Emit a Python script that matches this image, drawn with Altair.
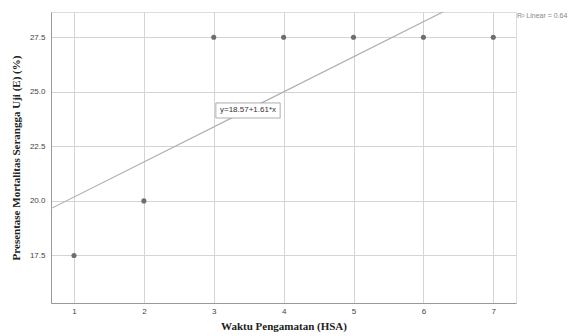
import altair as alt
import pandas as pd
import numpy as np

days = [1, 2, 3, 4, 5, 6, 7]
mortality = [17.5, 20.0, 27.5, 27.5, 27.5, 27.5, 27.5]
x_ticks = [1, 2, 3, 4, 5, 6, 7]
y_ticks = [17.5, 20.0, 22.5, 25.0, 27.5]
eq_label = ["y=18.57+1.61*x"]
r2_label = ["R\u00b2 Linear = 0.64"]

df = pd.DataFrame({"x": days, "y": mortality})

slope, intercept = np.polyfit(days, mortality, 1)
xdom = [0.671, 7.325]
ydom = [15.32, 28.66]
fit = pd.DataFrame({"x": xdom, "y": [intercept + slope * v for v in xdom]})

xs = alt.Scale(domain=xdom, nice=False, zero=False)
ys = alt.Scale(domain=ydom, nice=False, zero=False)

base_x = alt.X("x:Q", scale=xs, title="Waktu Pengamatan (HSA)",
               axis=alt.Axis(values=x_ticks, format="d", grid=True, gridColor="#d4d4d4",
                             domainColor="#999999", tickSize=0, labelPadding=4,
                             labelFontSize=8, labelColor="#444444", labelFont="Liberation Sans",
                             titleFont="Liberation Serif", titleFontSize=11, titleFontWeight="bold",
                             titleColor="#222222", titlePadding=5))
base_y = alt.Y("y:Q", scale=ys, title="Presentase Mortalitas Serangga Uji (E) (%)",
               axis=alt.Axis(values=y_ticks, format=".1f", grid=True, gridColor="#d4d4d4",
                             domainColor="#999999", tickSize=0, labelPadding=6,
                             labelFontSize=8, labelColor="#444444", labelFont="Liberation Sans",
                             titleFont="Liberation Serif", titleFontSize=11, titleFontWeight="bold",
                             titleColor="#222222", titlePadding=8))

points = alt.Chart(df).mark_circle(size=26, color="#6e6e6e", opacity=1).encode(x=base_x, y=base_y)

line = alt.Chart(fit).mark_line(color="#b0b0b0", strokeWidth=1.2, clip=True).encode(
    x=alt.X("x:Q", scale=xs), y=alt.Y("y:Q", scale=ys))

eq_df = pd.DataFrame({"label": eq_label, "x": [3.03], "x2": [3.95], "y": [23.80], "y2": [24.49], "ym": [24.145], "xm": [3.49]})
eq_box = alt.Chart(eq_df).mark_rect(fill="white", stroke="#999999", strokeWidth=0.8).encode(
    x=alt.X("x:Q", scale=xs), x2="x2", y=alt.Y("y:Q", scale=ys), y2="y2")
eq_text = alt.Chart(eq_df).mark_text(fontSize=8, font="Liberation Sans", color="#333333").encode(
    x=alt.X("xm:Q", scale=xs), y=alt.Y("ym:Q", scale=ys), text="label")

r2 = alt.Chart(pd.DataFrame({"t": r2_label})).mark_text(
    fontSize=7, font="Liberation Sans", color="#888888", align="left", baseline="middle").encode(
    x=alt.value(466), y=alt.value(4), text="t")

chart = alt.layer(line, points, eq_box, eq_text, r2).properties(
    width=465, height=291,
    autosize=alt.AutoSizeParams(type="none"),
    padding={"left": 51, "top": 12, "right": 53, "bottom": 33},
).configure_view(stroke=None).configure(background="white")

chart.save("out.html", embed_options={"renderer": "svg", "actions": False})
